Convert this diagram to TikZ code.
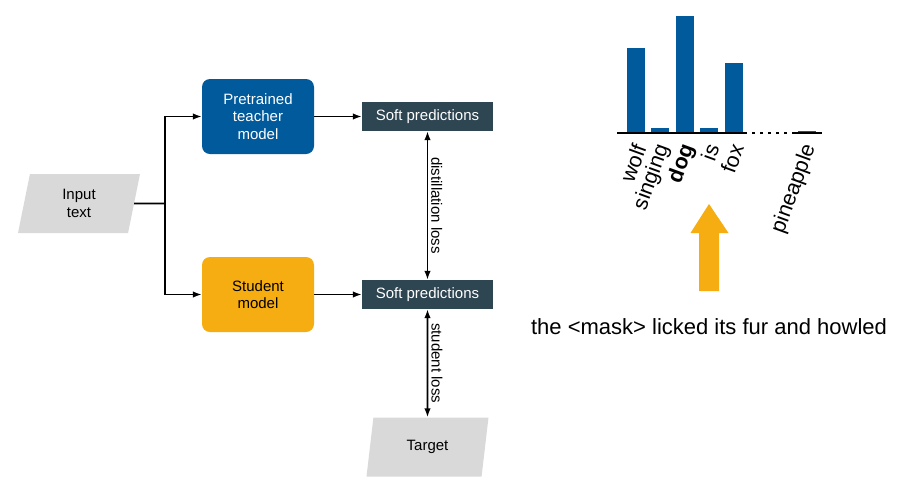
\documentclass[tikz,border=0pt]{standalone}
\usepackage{fontspec}
\setmainfont{Liberation Sans}
\usetikzlibrary{arrows.meta,shapes.geometric,positioning}
\definecolor{teacherblue}{RGB}{0,90,156}
\definecolor{studentgold}{RGB}{245,173,18}
\definecolor{softslate}{RGB}{46,69,82}
\definecolor{inputgrey}{RGB}{217,217,217}
\tikzset{
  model/.style={rounded corners=8pt,minimum width=112pt,minimum height=75pt,align=center,font=\fontsize{15}{17.5}\selectfont},
  softbox/.style={fill=softslate,text=white,minimum width=131pt,minimum height=29pt,font=\fontsize{15}{17.5}\selectfont},
  dataio/.style={trapezium,trapezium left angle=71,trapezium right angle=109,trapezium stretches body,fill=inputgrey,minimum width=122pt,minimum height=59pt,align=center,font=\fontsize{15}{17.5}\selectfont},
  flow/.style={-{Latex[length=9pt,width=6.5pt]},line width=1.7pt},
  loss/.style={{Latex[length=9pt,width=6.5pt]}-{Latex[length=9pt,width=6.5pt]},line width=1.7pt},
  losslabel/.style={midway,anchor=south,rotate=-90,inner sep=3pt,font=\fontsize{15}{17}\selectfont},
  word/.style={rotate=70,anchor=east,inner sep=1pt,font=\fontsize{21.5}{23}\selectfont}
}
\begin{document}
\begin{tikzpicture}[x=1pt,y=-1pt]
    \useasboundingbox (0,0) rectangle (906,491);
    % left: distillation set-up
    \node[dataio] (input) at (79,203.5) {Input\\text};
    \node[model,fill=teacherblue,text=white] (teacher) at (258,116.5) {Pretrained\\teacher\\model};
    \node[model,fill=studentgold] (student) at (258,294.5) {Student\\model};
    \node[softbox] (softT) at (427.5,116.5) {Soft predictions};
    \node[softbox] (softS) at (427.5,294.5) {Soft predictions};
    \node[dataio] (target) at (427.5,447) {Target};
    \coordinate (split) at (165,203.5);
    \draw[line width=1.7pt] (input.east) -- (split);
    \draw[flow] (split) |- (teacher.west);
    \draw[flow] (split) |- (student.west);
    \draw[flow] (teacher.east) -- (softT.west);
    \draw[flow] (student.east) -- (softS.west);
    \draw[loss] (softT.south) -- (softS.north) node[losslabel] {distillation loss};
    \draw[loss] (softS.south) -- (target.north) node[losslabel] {student loss};
    % right: masked word distribution
    \foreach \cx/\top in {636/48,660/128,685/16,709/128,733.5/63,806.5/131}
        \fill[teacherblue] (\cx-9,133) rectangle (\cx+9,\top);
    \draw[line width=1.5pt] (617,133) -- (747,133);
    \draw[line width=1.5pt,dash pattern=on 3pt off 5pt] (752,133) -- (789,133);
    \draw[line width=1.5pt] (792,133) -- (822,133);
    \node[word] (wolf) at (640,144) {wolf};
    \node[word] (singing) at (664,144) {singing};
    \node[word] (dog) at (689,144) {\textbf{dog}};
    \node[word] (is) at (713,144) {is};
    \node[word] (fox) at (737.5,144) {fox};
    \node[word] (pineapple) at (810.5,144) {pineapple};
    \fill[studentgold] (699,291) -- (699,233) -- (690.5,233) -- (709,204) -- (728.5,233) -- (719,233) -- (719,291) -- cycle;
    \node[font=\fontsize{22}{26}\selectfont] (sentence) at (709,327) {the <mask> licked its fur and howled};
\end{tikzpicture}
\end{document}
